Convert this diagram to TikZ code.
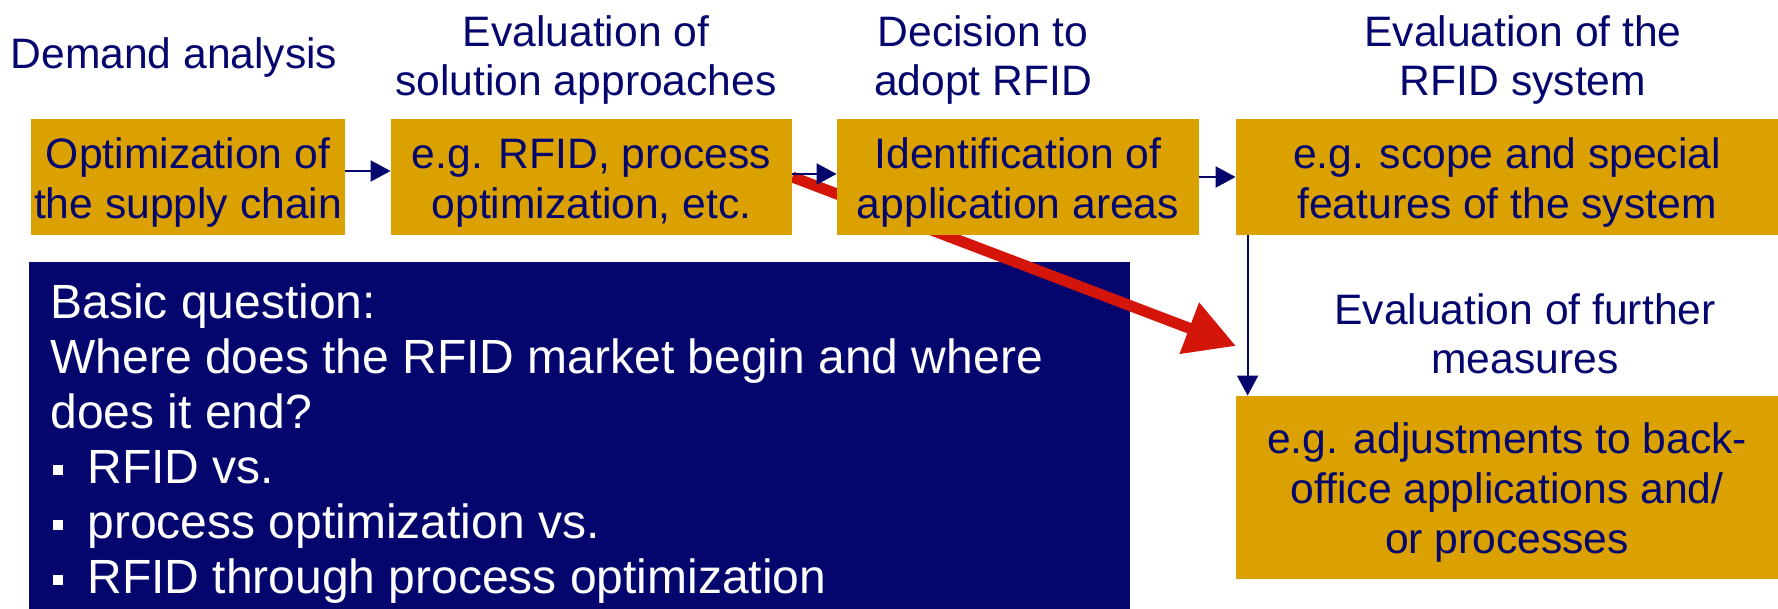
\documentclass[tikz,border=0pt]{standalone}
\usepackage{fontspec}
\setmainfont{Liberation Sans}
\usetikzlibrary{arrows.meta}
\definecolor{gold}{RGB}{219,161,0}
\definecolor{navy}{RGB}{4,6,110}
\definecolor{redarrow}{RGB}{212,22,10}
\pgfdeclarelayer{bg}
\pgfsetlayers{bg,main}
\newcommand\bul{\hspace*{1.5pt}\rule[4pt]{5pt}{5pt}\hspace*{12pt}}
\newcommand\up{\rule{0pt}{20.5pt}}
\begin{document}
\begin{tikzpicture}[x=0.5pt,y=-0.5pt,
  gbox/.style={fill=gold, inner sep=0pt, align=center, text=navy, font=\fontsize{21.3}{25}\selectfont},
  hdr/.style={inner sep=0pt, align=center, text=navy, font=\fontsize{21.3}{24.5}\selectfont},
  qbox/.style={fill=navy, inner sep=0pt},
  qtext/.style={text=white, inner sep=0pt, align=left, font=\fontsize{24}{27.5}\selectfont},
  conn/.style={navy, line width=1pt, -{Triangle[length=10pt,width=10.5pt]}},
  bigarrow/.style={redarrow, line width=5.5pt, -{Triangle[length=25pt,width=26pt]}}]
\useasboundingbox (0,0) rectangle (1778,609);
% headers
\node[hdr] (h1) at (174,57) {Demand analysis};
\node[hdr] (h2) at (586,60) {Evaluation of\\solution approaches};
\node[hdr] (h3) at (983,60) {Decision to\\adopt RFID};
\node[hdr] (h4) at (1523,60) {Evaluation of the\\RFID system};
\node[hdr] (h5) at (1525,334) {Evaluation of further\\measures};
% gold boxes
\node[gbox, minimum width=157pt, minimum height=58pt] (b1) at (188,177) {\up Optimization of\\the supply chain};
\node[gbox, minimum width=200.5pt, minimum height=58pt] (b2) at (591.5,177) {\up e.g. RFID, process\\optimization, etc.};
\node[gbox, minimum width=181pt, minimum height=58pt] (b3) at (1018,177) {\up Identification of\\application areas};
\node[gbox, minimum width=271pt, minimum height=58pt] (b4) at (1507,177) {\up e.g. scope and special\\features of the system};
\node[gbox, minimum width=271pt, minimum height=91.5pt] (b5) at (1507,487.5) {\up e.g. adjustments to back-\\office applications and/\\or processes};
% question box and red arrow (behind the gold boxes)
\begin{pgfonlayer}{bg}
\node[qbox, minimum width=550.5pt, minimum height=173.5pt, anchor=north west] (q) at (29,262) {};
\coordinate (rt) at (1236,346);
\draw[bigarrow] (b2.east) -- (rt);
\end{pgfonlayer}
\node[qtext, anchor=north west] (qt) at (50,283) {Basic question:\\Where does the RFID market begin and where\\does it end?\\\bul RFID vs.\\\bul process optimization vs.\\\bul RFID through process optimization};
% connectors
\draw[conn] ([yshift=3pt]b1.east) -- ([yshift=3pt]b2.west);
\draw[conn] ([yshift=1.5pt]b2.east) -- ([yshift=1.5pt]b3.west);
\draw[conn] (b3.east) -- (b4.west);
\draw[conn] ([xshift=6pt]b4.south west) -- ([xshift=6pt]b5.north west);
\end{tikzpicture}
\end{document}
